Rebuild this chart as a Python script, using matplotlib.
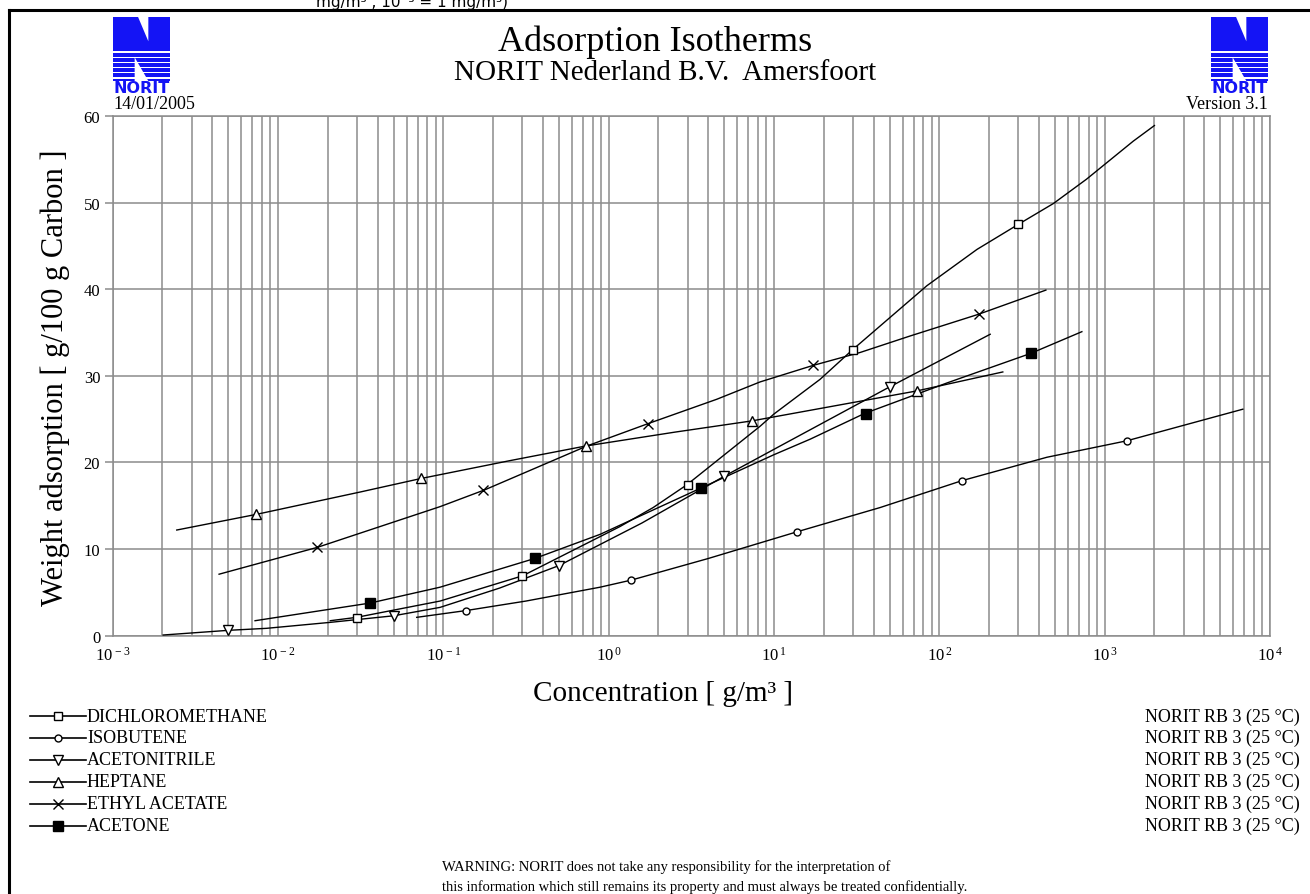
import numpy as np
import matplotlib
matplotlib.use("Agg")
import matplotlib.pyplot as plt
from matplotlib.ticker import LogLocator, NullFormatter
from matplotlib.patches import Polygon, Rectangle

plt.rcParams['font.family'] = ['Liberation Serif', 'DejaVu Serif']
plt.rcParams['mathtext.fontset'] = 'custom'
plt.rcParams['mathtext.rm'] = 'Liberation Serif'
plt.rcParams['mathtext.it'] = 'Liberation Serif:italic'

# ---- data (concentration g/m3, adsorption g/100 g carbon)
dcm_x = [0.0207, 0.0299, 0.0955, 0.302, 1.17, 1.86, 2.96, 8.26, 10.0, 19.0, 29.8, 84.0, 169, 301, 490, 776, 1490, 2000]
dcm_y = [1.73, 2.12, 4.0, 6.92, 12.6, 14.8, 17.4, 24.2, 25.6, 29.6, 33.0, 40.4, 44.6, 47.5, 49.9, 52.7, 57.1, 58.9]
dcm_mx = [0.03, 0.3, 3, 30, 300]
dcm_my = [2.1, 6.9, 17.4, 33.0, 47.5]

iso_x = [0.069, 0.137, 0.316, 0.887, 1.37, 3.98, 13.8, 43.9, 137, 447, 1360, 6850]
iso_y = [2.12, 2.9, 4.0, 5.6, 6.42, 8.9, 12.0, 14.8, 17.9, 20.6, 22.5, 26.15]
iso_mx = [0.137, 1.37, 13.7, 137, 1370]
iso_my = [2.9, 6.42, 12.0, 17.9, 22.5]

acn_x = [0.00202, 0.00501, 0.00851, 0.0207, 0.0501, 0.0955, 0.219, 0.501, 1.585, 4.99, 11.9, 49.2, 203]
acn_y = [0.08, 0.62, 0.85, 1.54, 2.3, 3.27, 5.5, 8.1, 13.0, 18.4, 22.3, 28.65, 34.8]
acn_mx = [0.005, 0.05, 0.5, 5, 50]
acn_my = [0.62, 2.3, 8.1, 18.4, 28.7]

hep_x = [0.00244, 0.00736, 0.0316, 0.0733, 0.251, 0.726, 2.51, 7.35, 25.1, 73.1, 242]
hep_y = [12.2, 14.0, 16.6, 18.15, 20.2, 21.9, 23.5, 24.8, 26.65, 28.26, 30.45]
hep_mx = [0.00733, 0.0733, 0.733, 7.33, 73.3]
hep_my = [14.0, 18.15, 21.9, 24.8, 28.26]

eth_x = [0.0044, 0.0173, 0.0955, 0.178, 0.738, 1.74, 4.51, 8.24, 17.2, 33.2, 66.5, 172, 441]
eth_y = [7.1, 10.2, 14.9, 16.84, 21.9, 24.5, 27.3, 29.3, 31.2, 32.7, 34.6, 37.1, 39.9]
eth_mx = [0.0173, 0.173, 1.73, 17.3, 173]
eth_my = [10.2, 16.8, 24.4, 31.2, 37.1]

act_x = [0.00726, 0.0158, 0.0361, 0.0955, 0.359, 0.887, 3.57, 10.0, 16.6, 35.2, 112, 358, 728]
act_y = [1.73, 2.72, 3.77, 5.6, 8.93, 11.7, 17.0, 20.9, 22.7, 25.65, 29.2, 32.6, 35.1]
act_mx = [0.036, 0.36, 3.6, 36, 360]
act_my = [3.77, 8.93, 17.0, 25.65, 32.6]

names = ['DICHLOROMETHANE', 'ISOBUTENE', 'ACETONITRILE', 'HEPTANE', 'ETHYL ACETATE', 'ACETONE']
carbon = 'NORIT RB 3 (25 °C)'
y_ticks = [0, 10, 20, 30, 40, 50, 60]
x_decades = [1e-3, 1e-2, 1e-1, 1e0, 1e1, 1e2, 1e3, 1e4]
x_labels = [r'$10^{\,-3}$', r'$10^{\,-2}$', r'$10^{\,-1}$', r'$10^{\,0}$',
            r'$10^{\,1}$', r'$10^{\,2}$', r'$10^{\,3}$', r'$10^{\,4}$']

# marker styles: (marker, face, size)
styles = [('s', 'white', 6), ('o', 'white', 5), ('v', 'white', 6.5),
          ('^', 'white', 6.5), ('x', 'white', 7), ('s', 'black', 7.5)]
series = [(dcm_x, dcm_y, dcm_mx, dcm_my), (iso_x, iso_y, iso_mx, iso_my),
          (acn_x, acn_y, acn_mx, acn_my), (hep_x, hep_y, hep_mx, hep_my),
          (eth_x, eth_y, eth_mx, eth_my), (act_x, act_y, act_mx, act_my)]

W, H = 1310, 895
grey = '#8c8c8c'
blue = '#1414f5'

fig = plt.figure(figsize=(W / 100, H / 100), dpi=100)
ax = fig.add_axes([112.7 / W, 1 - 636.7 / H, (1270 - 112.7) / W, (636.7 - 117) / H])

for (x, y, mx, my), (mk, fc, ms) in zip(series, styles):
    ax.plot(x, y, color='black', lw=1.0, zorder=3)
    ax.plot(mx, my, ls='none', marker=mk, mfc=fc, mec='black', ms=ms, mew=1.0, zorder=4)

ax.set_xscale('log')
ax.set_xlim(1e-3, 1e4)
ax.set_ylim(0, 60)
ax.set_xticks(x_decades)
ax.set_xticklabels(x_labels)
ax.xaxis.set_minor_locator(LogLocator(base=10, subs=np.arange(2, 10), numticks=100))
ax.xaxis.set_minor_formatter(NullFormatter())
ax.set_yticks(y_ticks)
ax.grid(True, which='both', axis='x', color=grey, lw=1.1)
ax.grid(True, which='major', axis='y', color=grey, lw=1.1)
ax.set_axisbelow(True)
for sp in ax.spines.values():
    sp.set_color(grey)
    sp.set_linewidth(1.1)
ax.tick_params(axis='y', length=6, color=grey, width=1.1, labelsize=12, pad=3)
ax.tick_params(axis='x', which='both', length=0, labelsize=12, pad=7)

# ---- overlay in pixel coordinates for page furniture
ov = fig.add_axes([0, 0, 1, 1])
ov.set_xlim(0, W)
ov.set_ylim(H, 0)
ov.axis('off')

ov.plot([8.5, 8.5], [H, 11], color='black', lw=2.2, clip_on=False)
ov.plot([8.5, W], [11, 11], color='black', lw=2.2, clip_on=False)
ov.text(316, 7, 'mg/m³ , 10⁻³ = 1 mg/m³)', family='DejaVu Sans', fontsize=11, va='baseline')

ov.text(655, 42, 'Adsorption Isotherms', ha='center', va='center', fontsize=26)
ov.text(665, 73, 'NORIT Nederland B.V.  Amersfoort', ha='center', va='center', fontsize=21)
ov.text(113, 104, '14/01/2005', ha='left', va='center', fontsize=13)
ov.text(1268, 104, 'Version 3.1', ha='right', va='center', fontsize=13)

ov.text(663, 694, 'Concentration [ g/m³ ]', ha='center', va='center', fontsize=21)
ov.text(55, 378, 'Weight adsorption [ g/100 g Carbon ]', ha='center', va='center',
        rotation=90, fontsize=22)


def draw_logo(x0, w):
    top, bot = 18, 82
    hN = bot - top
    pts = [(0, 0), (0, 1), (0.44, 1), (0.62, 0.62), (0.62, 1), (1, 1), (1, 0),
           (0.62, 0), (0.38, 0), (0.38, 0.37), (0.38, 0)]
    poly = [(x0 + u * w, bot - v * hN) for u, v in pts]
    ov.add_patch(Polygon(poly, closed=True, facecolor=blue, edgecolor='none'))
    ov.add_patch(Polygon([(x0 + 0.38 * w, bot), (x0 + 0.62 * w, bot), (x0 + 0.38 * w, bot - 0.37 * hN)],
                         closed=True, facecolor='white', edgecolor='none'))
    for v in [0.05, 0.13, 0.21, 0.29, 0.37, 0.45]:
        ov.add_patch(Rectangle((x0, bot - v * hN - 0.8), w, 1.6, facecolor='white', edgecolor='none'))
    ov.text(x0 + w / 2, 88, 'NORIT', ha='center', va='center', family='DejaVu Sans',
            fontweight='bold', fontsize=11.5, color=blue)


draw_logo(113, 57)
draw_logo(1211, 57)

# ---- legend block
row_y = [717, 738.5, 760.5, 782.5, 804.5, 826.5]
for name, (mk, fc, ms), ry in zip(names, styles, row_y):
    ov.plot([30, 86], [ry, ry], color='black', lw=1.2)
    ov.plot([58], [ry], ls='none', marker=mk, mfc=fc, mec='black', ms=ms, mew=1.0)
    ov.text(87, ry, name, ha='left', va='center', fontsize=13)
    ov.text(1300, ry, carbon, ha='right', va='center', fontsize=13)

ov.text(442, 867, 'WARNING: NORIT does not take any responsibility for the interpretation of',
        ha='left', va='center', fontsize=10.5)
ov.text(442, 887, 'this information which still remains its property and must always be treated confidentially.',
        ha='left', va='center', fontsize=10.5)

fig.savefig('out.png', dpi=100)
